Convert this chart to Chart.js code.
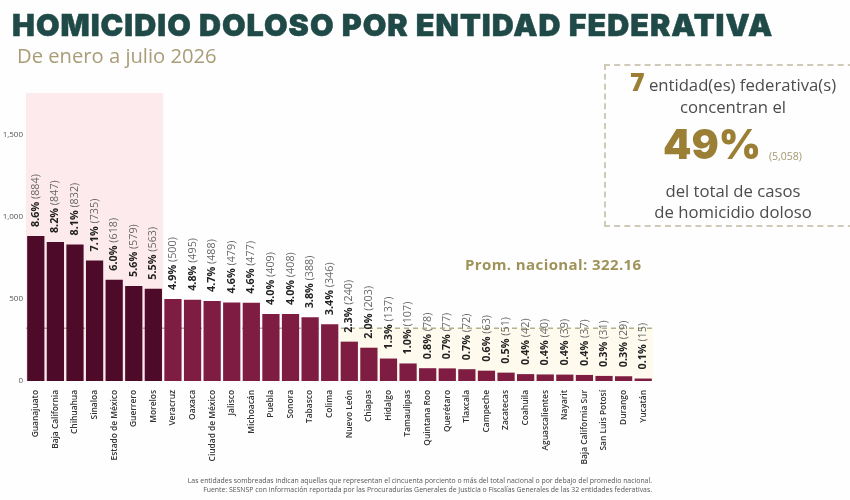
<!DOCTYPE html>
<html>
<head>
<meta charset="utf-8">
<script src="https://cdn.jsdelivr.net/npm/chart.js@4"></script>
<style>
  html, body { margin: 0; padding: 0; background: #fefefe; overflow: hidden; }
  #wrap { position: relative; width: 850px; height: 500px; overflow: hidden; }
  #homicidios { position: absolute; left: 0; top: 0; }
  .txt { position: absolute; white-space: nowrap; font-family: "Open Sans", sans-serif; }
  #title { left: 12px; top: 6px; font-family: Inter, sans-serif; font-weight: 900; font-size: 30.5px; letter-spacing: 1px; color: #1f4a47; -webkit-text-stroke: 0.5px #1f4a47; }
  #subtitle { left: 17px; top: 41px; font-size: 20.2px; color: #a99d78; }
  #prom { left: 465px; top: 254px; font-size: 15px; font-weight: 700; color: #a0935a; letter-spacing: 0.4px; }
  #box { position: absolute; left: 604px; top: 64px; width: 260px; height: 163px; border: 2px dashed #cfcab8; box-sizing: border-box; }
  .boxline { width: 260px; left: 603px; text-align: center; font-size: 16.7px; color: #4c4c4c; }
  #big { left: 663px; top: 115px; font-family: Inter, sans-serif; font-weight: 900; font-size: 40.5px; color: #9a7f35; line-height: 60px; }
  #cases { left: 769px; top: 149px; font-size: 10.5px; color: #a2986f; }
  #seven { font-size: 25px; font-weight: 800; color: #9a7f35; }
  #note { left: 150px; width: 502px; top: 477px; text-align: right; font-size: 6.9px; line-height: 8.5px; color: #555; }
</style>
</head>
<body>
<div id="wrap">
  <canvas id="homicidios" width="850" height="500"></canvas>
  <div class="txt" id="title">HOMICIDIO DOLOSO POR ENTIDAD FEDERATIVA</div>
  <div class="txt" id="subtitle">De enero a julio 2026</div>
  <div class="txt" id="prom">Prom. nacional: 322.16</div>
  <div id="box"></div>
  <div class="txt boxline" style="top:64px"><span id="seven">7</span> entidad(es) federativa(s)</div>
  <div class="txt boxline" style="top:95px">concentran el</div>
  <div class="txt" id="big">49%</div>
  <div class="txt" id="cases">(5,058)</div>
  <div class="txt boxline" style="top:179px">del total de casos</div>
  <div class="txt boxline" style="top:200px">de homicidio doloso</div>
  <div class="txt" id="note">Las entidades sombreadas indican aquellas que representan el cincuenta porciento o más del total nacional o por debajo del promedio nacional.<br>Fuente: SESNSP con información reportada por las Procuradurías Generales de Justicia o Fiscalías Generales de las 32 entidades federativas.</div>
</div>
<script>
// --------------------------------------------------- DATA
const entidades = ['Guanajuato', 'Baja California', 'Chihuahua', 'Sinaloa', 'Estado de México', 'Guerrero', 'Morelos',
  'Veracruz', 'Oaxaca', 'Ciudad de México', 'Jalisco', 'Michoacán', 'Puebla', 'Sonora', 'Tabasco', 'Colima',
  'Nuevo León', 'Chiapas', 'Hidalgo', 'Tamaulipas', 'Quintana Roo', 'Querétaro', 'Tlaxcala', 'Campeche', 'Zacatecas',
  'Coahuila', 'Aguascalientes', 'Nayarit', 'Baja California Sur', 'San Luis Potosí', 'Durango', 'Yucatán']
const casos = [884, 847, 832, 735, 618, 579, 563, 500, 495, 488, 479, 477, 409, 408, 388, 346,
  240, 203, 137, 107, 78, 77, 72, 63, 51, 42, 40, 39, 37, 31, 29, 15]
const porcentajes = ['8.6%', '8.2%', '8.1%', '7.1%', '6.0%', '5.6%', '5.5%', '4.9%', '4.8%', '4.7%', '4.6%', '4.6%', '4.0%', '4.0%', '3.8%', '3.4%',
  '2.3%', '2.0%', '1.3%', '1.0%', '0.8%', '0.7%', '0.7%', '0.6%', '0.5%', '0.4%', '0.4%', '0.4%', '0.4%', '0.3%', '0.3%', '0.1%']
const ticksY = [0, 500, 1000, 1500]
const promedio = 322.16
const entidadesTop = 7
const entidadesBajas = 16 // Nuevo León en adelante quedan bajo el promedio

// --------------------------------------------------- PLUGINS
const fondos = {
  id: 'fondos',
  beforeDatasetsDraw(chart) {
    const { ctx, chartArea, scales } = chart
    const paso = scales.x.getPixelForValue(1) - scales.x.getPixelForValue(0)
    const finTop = scales.x.getPixelForValue(entidadesTop - 1) + paso / 2
    const inicioBajas = scales.x.getPixelForValue(entidadesBajas) - paso / 2
    const yProm = scales.y.getPixelForValue(promedio)
    ctx.save()
    ctx.fillStyle = '#fdeaec'
    ctx.fillRect(chartArea.left, chartArea.top, finTop - chartArea.left, chartArea.bottom - chartArea.top)
    ctx.fillStyle = '#fefbee'
    ctx.fillRect(inicioBajas, yProm, chartArea.right - inicioBajas, chartArea.bottom - yProm)
    ctx.strokeStyle = '#8f8a5a'
    ctx.lineWidth = 1
    ctx.setLineDash([5, 4])
    ctx.beginPath()
    ctx.moveTo(chartArea.left, yProm)
    ctx.lineTo(chartArea.right, yProm)
    ctx.stroke()
    ctx.restore()
  }
}

const etiquetas = {
  id: 'etiquetas',
  afterDatasetsDraw(chart) {
    const { ctx } = chart
    chart.getDatasetMeta(0).data.forEach((bar, i) => {
      ctx.save()
      ctx.translate(bar.x, bar.y - 9)
      ctx.rotate(-Math.PI / 2)
      ctx.textBaseline = 'middle'
      ctx.textAlign = 'left'
      ctx.font = '700 10.8px "Open Sans"'
      ctx.fillStyle = '#222'
      ctx.fillText(porcentajes[i], 0, 0)
      const ancho = ctx.measureText(porcentajes[i] + ' ').width
      ctx.font = '400 10.8px "Open Sans"'
      ctx.fillStyle = '#666'
      ctx.fillText('(' + casos[i] + ')', ancho, 0)
      ctx.restore()
    })
  }
}

// --------------------------------------------------- CHART
new Chart(document.getElementById('homicidios'), {
  type: 'bar',
  data: {
    labels: entidades,
    datasets: [{
      data: casos,
      backgroundColor: casos.map((c, i) => i < entidadesTop ? '#4e0b29' : '#7e1c42'),
      categoryPercentage: 1,
      barPercentage: 0.88
    }]
  },
  options: {
    responsive: false,
    animation: false,
    layout: { padding: { top: 93, right: 197, left: 0, bottom: 0 } },
    plugins: { legend: { display: false }, tooltip: { enabled: false } },
    scales: {
      x: {
        grid: { display: false },
        border: { display: false },
        afterFit(scale) { scale.height = 119 },
        ticks: {
          autoSkip: false,
          maxRotation: 90,
          minRotation: 90,
          padding: 1,
          color: '#333',
          font: { family: 'Open Sans', size: 8.4, weight: 600 }
        }
      },
      y: {
        min: 0,
        max: 1756,
        grid: { display: false, drawTicks: false },
        border: { display: false },
        afterFit(scale) { scale.width = 26 },
        afterBuildTicks(scale) { scale.ticks = ticksY.map(v => ({ value: v })) },
        ticks: {
          padding: 3,
          color: '#555',
          font: { family: 'Open Sans', size: 8 },
          callback: v => v.toLocaleString('en-US')
        }
      }
    }
  },
  plugins: [fondos, etiquetas]
})
</script>
</body>
</html>
